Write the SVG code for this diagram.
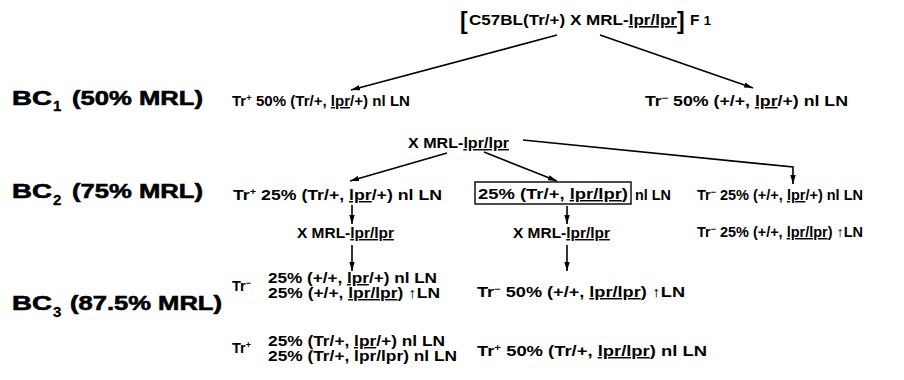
<svg xmlns="http://www.w3.org/2000/svg" width="904" height="380" viewBox="0 0 904 380">
  <style>
    text { font-family: "Liberation Sans", Arial, Helvetica, sans-serif; font-weight: bold; fill: #000; }
    .sm { font-size: 14.5px; }
    .ti { font-size: 15.5px; }
    .big { font-size: 21px; stroke: #000; stroke-width: 0.6; }
    .sub { font-size: 15px; stroke: #000; stroke-width: 0.3; }
    .sup { font-size: 9px; }
    .brk { font-size: 23px; font-weight: bold; }
    .u { text-decoration: underline; }
    .edge { stroke: #000; stroke-width: 1.6; fill: none; marker-end: url(#ah); }
    .box { fill: none; stroke: #000; stroke-width: 1.4; }
  </style>
  <defs>
    <marker id="ah" viewBox="0 0 10 6" refX="10" refY="3" markerWidth="9" markerHeight="6" markerUnits="userSpaceOnUse" orient="auto">
      <path d="M0,0 L10,3 L0,6 z" fill="#000"/>
    </marker>
  </defs>

  <!-- generation labels -->
  <g id="label-bc1">
    <text class="big" x="12" y="105" textLength="40" lengthAdjust="spacingAndGlyphs">BC</text>
    <text class="sub" x="53" y="111">1</text>
    <text class="big" x="72" y="105" textLength="131" lengthAdjust="spacingAndGlyphs">(50% MRL)</text>
  </g>
  <g id="label-bc2">
    <text class="big" x="12" y="198" textLength="40" lengthAdjust="spacingAndGlyphs">BC</text>
    <text class="sub" x="53" y="205">2</text>
    <text class="big" x="72" y="198" textLength="131" lengthAdjust="spacingAndGlyphs">(75% MRL)</text>
  </g>
  <g id="label-bc3">
    <text class="big" x="12" y="310" textLength="40" lengthAdjust="spacingAndGlyphs">BC</text>
    <text class="sub" x="53" y="317">3</text>
    <text class="big" x="70" y="310" textLength="152" lengthAdjust="spacingAndGlyphs">(87.5% MRL)</text>
  </g>

  <!-- F1 cross -->
  <g id="f1">
    <text class="brk" x="460" y="29">[</text>
    <text class="ti" x="469" y="25" textLength="208" lengthAdjust="spacingAndGlyphs">C57BL(Tr/+) X MRL-<tspan class="u">lpr/lpr</tspan></text>
    <text class="brk" x="677" y="29">]</text>
    <text class="ti" x="690" y="25">F <tspan font-size="13px">1</tspan></text>
  </g>

  <!-- BC1 progeny -->
  <g id="bc1-tr-pos">
    <text class="sm" x="232" y="106" textLength="178" lengthAdjust="spacingAndGlyphs">Tr<tspan class="sup" dy="-5">+</tspan><tspan dy="5"> 50% (Tr/+, </tspan><tspan class="u">lpr</tspan>/+) nl LN</text>
  </g>
  <g id="bc1-tr-neg">
    <text class="sm" x="645" y="106" textLength="203" lengthAdjust="spacingAndGlyphs">Tr<tspan class="sup" dy="-5">−</tspan><tspan dy="5">  50% (+/+, </tspan><tspan class="u">lpr</tspan>/+) nl LN</text>
  </g>

  <!-- second backcross -->
  <g id="cross-2">
    <text class="sm" x="408" y="148" textLength="101" lengthAdjust="spacingAndGlyphs">X MRL-<tspan class="u">lpr/lpr</tspan></text>
  </g>

  <!-- BC2 progeny -->
  <g id="bc2-tr-pos">
    <text class="sm" x="233" y="200" textLength="209" lengthAdjust="spacingAndGlyphs">Tr<tspan class="sup" dy="-5">+</tspan><tspan dy="5"> 25% (Tr/+, </tspan><tspan class="u">lpr</tspan>/+) nl LN</text>
  </g>
  <g id="bc2-selected">
    <rect class="box" x="475" y="182" width="156" height="22"/>
    <text class="sm" x="478" y="199" textLength="150" lengthAdjust="spacingAndGlyphs">25% (Tr/+, <tspan class="u">lpr/lpr</tspan>)</text>
    <text class="sm" x="635" y="200" textLength="36" lengthAdjust="spacingAndGlyphs">nl LN</text>
  </g>
  <g id="bc2-tr-neg-het">
    <text class="sm" x="697" y="200" textLength="166" lengthAdjust="spacingAndGlyphs">Tr<tspan class="sup" dy="-5">−</tspan><tspan dy="5">  25% (+/+, </tspan><tspan class="u">lpr</tspan>/+) nl LN</text>
  </g>
  <g id="bc2-tr-neg-hom">
    <text class="sm" x="697" y="237" textLength="166" lengthAdjust="spacingAndGlyphs">Tr<tspan class="sup" dy="-5">−</tspan><tspan dy="5">  25% (+/+, </tspan><tspan class="u">lpr/lpr</tspan>) ↑LN</text>
  </g>

  <!-- third backcrosses -->
  <g id="cross-3a">
    <text class="sm" x="297" y="238" textLength="97" lengthAdjust="spacingAndGlyphs">X MRL-<tspan class="u">lpr/lpr</tspan></text>
  </g>
  <g id="cross-3b">
    <text class="sm" x="513" y="238" textLength="97" lengthAdjust="spacingAndGlyphs">X MRL-<tspan class="u">lpr/lpr</tspan></text>
  </g>

  <!-- BC3 progeny from the Tr+ lpr/+ parent -->
  <g id="bc3a-tr-neg">
    <text class="sm" x="232" y="291">Tr<tspan class="sup" dy="-5">−</tspan></text>
    <text class="sm" x="268" y="283" textLength="169" lengthAdjust="spacingAndGlyphs">25% (+/+, <tspan class="u">lpr</tspan>/+) nl LN</text>
    <text class="sm" x="268" y="298" textLength="172" lengthAdjust="spacingAndGlyphs">25% (+/+, <tspan class="u">lpr/lpr</tspan>) ↑LN</text>
  </g>
  <g id="bc3a-tr-pos">
    <text class="sm" x="232" y="353">Tr<tspan class="sup" dy="-5">+</tspan></text>
    <text class="sm" x="268" y="346" textLength="177" lengthAdjust="spacingAndGlyphs">25% (Tr/+, <tspan class="u">lpr</tspan>/+) nl LN</text>
    <text class="sm" x="268" y="361" textLength="189" lengthAdjust="spacingAndGlyphs">25% (Tr/+, lpr/lpr) nl LN</text>
  </g>

  <!-- BC3 progeny from the Tr+ lpr/lpr parent -->
  <g id="bc3b-tr-neg">
    <text class="sm" x="477" y="297" textLength="208" lengthAdjust="spacingAndGlyphs">Tr<tspan class="sup" dy="-5">−</tspan><tspan dy="5">  50% (+/+, </tspan><tspan class="u">lpr/lpr</tspan>) ↑LN</text>
  </g>
  <g id="bc3b-tr-pos">
    <text class="sm" x="477" y="356" textLength="230" lengthAdjust="spacingAndGlyphs">Tr<tspan class="sup" dy="-5">+</tspan><tspan dy="5"> 50% (Tr/+,  </tspan><tspan class="u">lpr/lpr</tspan>) nl LN</text>
  </g>

  <!-- connectors -->
  <g id="connectors">
    <path class="edge" d="M557,35 L351,90"/>
    <path class="edge" d="M600,35 L753,88"/>
    <path class="edge" d="M447,153 L350,181"/>
    <path class="edge" d="M484,152 L557,181"/>
    <path class="edge" d="M523,140 L793,167 L793,184"/>
    <path class="edge" d="M352,205 L352,224"/>
    <path class="edge" d="M567,206 L567,224"/>
    <path class="edge" d="M352,245 L352,271"/>
    <path class="edge" d="M567,245 L567,271"/>
  </g>
</svg>
